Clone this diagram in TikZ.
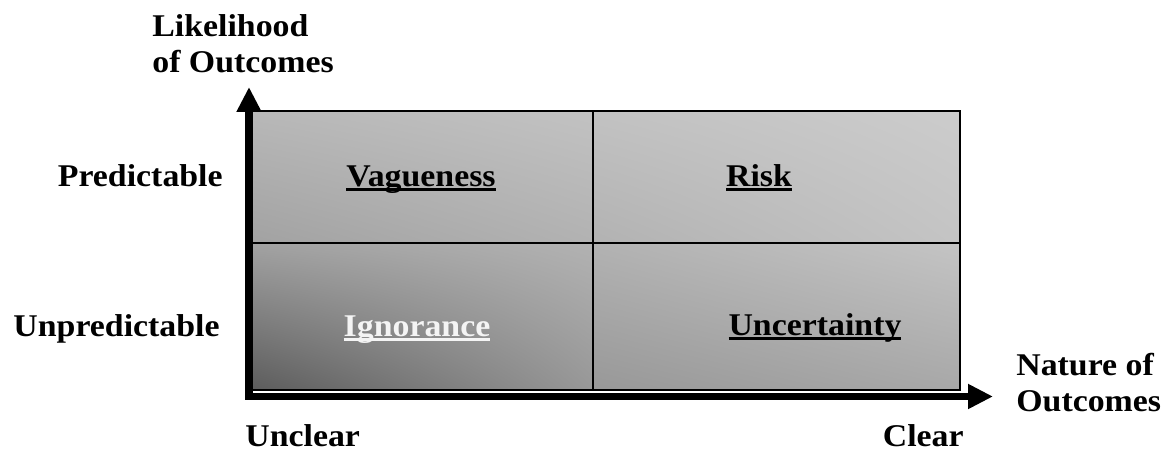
\documentclass[tikz,border=0pt]{standalone}
\usepackage{fontspec}
\setmainfont[FakeStretch=1.07]{Liberation Serif}
\usetikzlibrary{arrows.meta,shadings}
\definecolor{topL}{RGB}{184,184,184}
\definecolor{topM}{RGB}{194,194,194}
\definecolor{topR}{RGB}{204,204,204}
\definecolor{midL}{RGB}{162,162,162}
\definecolor{midM}{RGB}{178,178,178}
\definecolor{midR}{RGB}{196,196,196}
\definecolor{botL}{RGB}{92,92,92}
\definecolor{botM}{RGB}{152,152,152}
\definecolor{botR}{RGB}{168,168,168}
\definecolor{lighttext}{RGB}{244,244,244}
% underline that cuts through the descenders
\newcommand{\cellline}[1]{\setbox0\hbox{#1}\rlap{\rule[-2.4pt]{\wd0}{1.7pt}}\box0}
\tikzset{
%Define standard arrow tip
>={Triangle[length=0.5cm, width=0.47cm]},
%Define style for the lines
axis/.style={line width=0.145cm},
grid/.style={line width=0.04cm},
%Define style for the texts
axislabel/.style={font=\fontsize{18}{20.8}\selectfont\bfseries, inner sep=0pt},
cellname/.style={axislabel, anchor=base},
}
\begin{document}
\begin{tikzpicture}[x=0.02cm, y=-0.02cm]
    \useasboundingbox (0,0) rectangle (1167,452);
    % Cells
    \shade[upper left=topL, upper right=topM, lower left=midL, lower right=midM] (252,111) rectangle (593,243);
    \shade[upper left=topM, upper right=topR, lower left=midM, lower right=midR] (593,111) rectangle (960,243);
    \shade[upper left=midL, upper right=midM, lower left=botL, lower right=botM] (252,243) rectangle (593,390);
    \shade[upper left=midM, upper right=midR, lower left=botM, lower right=botR] (593,243) rectangle (960,390);
    \draw[grid] (252,111) rectangle (960,390);
    \draw[grid] (593,111) -- (593,390);
    \draw[grid] (252,243) -- (960,243);
    % Axis
    \coordinate (origin) at (249,396.5);
    \coordinate (y) at (249,87);
    \coordinate (x) at (993,396.5);
    \draw[axis, <->] (y) -- (origin) -- (x);
    \node[axislabel, anchor=base west, align=left] (likelihood) at (152,73) {Likelihood\\of Outcomes};
    \node[axislabel, anchor=base west, align=left] (nature) at (1016,412) {Nature of\\Outcomes};
    \node[axislabel, anchor=base east] (predictable) at (223,187) {Predictable};
    \node[axislabel, anchor=base east] (unpredictable) at (220,337) {Unpredictable};
    \node[axislabel, anchor=base west] (unclear) at (245,447) {Unclear};
    \node[axislabel, anchor=base east] (clear) at (964,447) {Clear};
    % Quadrants
    \node[cellname] (vagueness) at (421,187) {\cellline{Vagueness}};
    \node[cellname] (risk) at (759,187) {\cellline{Risk}};
    \node[cellname, text=lighttext] (ignorance) at (417,337) {\cellline{Ignorance}};
    \node[cellname] (uncertainty) at (815,336) {\cellline{Uncertainty}};
\end{tikzpicture}
\end{document}
